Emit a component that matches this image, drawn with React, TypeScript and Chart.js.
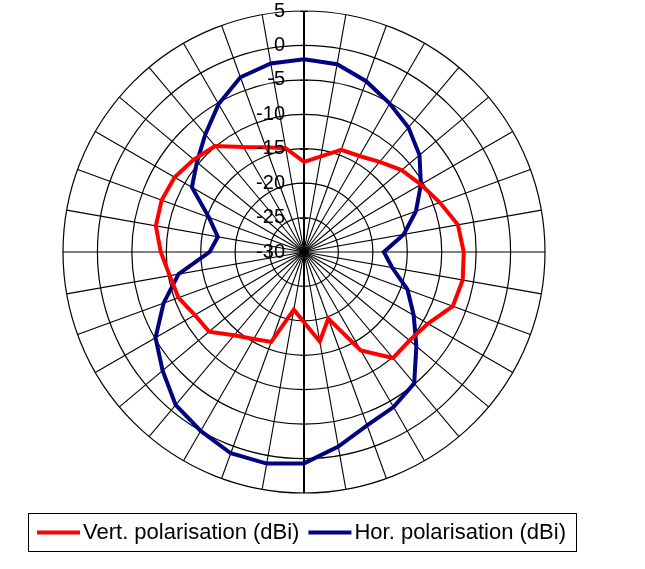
import React, { useEffect, useRef } from "react";
import { Chart, registerables } from "chart.js";

Chart.register(...registerables);

// Directions in degrees (clockwise from top)
const angles = [0, 10, 20, 30, 40, 50, 60, 70, 80, 90, 100, 110, 120, 130, 140, 150, 160, 170,
  180, 190, 200, 210, 220, 230, 240, 250, 260, 270, 280, 290, 300, 310, 320, 330, 340, 350];

const vertValues = [-16.9, -15.9, -14.2, -13.9, -12.9, -11.5, -10.4, -9.0, -7.3, -6.8, -6.6, -7.0,
  -9.2, -10.0, -9.9, -13.5, -19.7, -16.8, -19.8, -21.5, -16.1, -15.4, -14.2, -12.0,
  -11.7, -10.6, -10.2, -9.2, -8.15, -8.0, -8.3, -9.1, -9.9, -12.4, -13.8, -14.7];

const horValues = [-2.0, -2.3, -3.6, -5.1, -6.4, -8.1, -10.4, -12.7, -15.3, -18.4, -17.0, -14.0,
  -11.6, -8.7, -5.1, -4.0, -3.2, -1.3, 0.7, 1.2, 1.1, 0.0, -1.0, -3.2,
  -5.1, -8.3, -11.5, -16.3, -17.3, -15.3, -11.2, -9.7, -7.7, -5.2, -3.0, -2.2];

const tickValues = [5, 0, -5, -10, -15, -20, -25, -30];
const seriesNames = ["Vert. polarisation (dBi)", "Hor. polarisation (dBi)"];

const RED = "#FF0000";
const NAVY = "#000080";
const FONT = '"Liberation Sans", Arial, sans-serif';

const excelPlugin = {
  id: "excelDecor",
  afterDraw(chart: any) {
    const ctx: CanvasRenderingContext2D = chart.ctx;
    const scale = chart.scales.r;
    const cx = scale.xCenter;
    const cy = scale.yCenter;
    ctx.save();
    // tick marks on vertical axis
    ctx.strokeStyle = "#000";
    ctx.lineWidth = 1;
    tickValues.forEach((v) => {
      const d = scale.getDistanceFromCenterForValue(v);
      const y = Math.round(cy - d) + 0.5;
      ctx.beginPath();
      ctx.moveTo(cx - 4, y);
      ctx.lineTo(cx + 4, y);
      ctx.stroke();
    });
    // tick labels
    ctx.fillStyle = "#000";
    ctx.font = `20px ${FONT}`;
    ctx.textAlign = "right";
    ctx.textBaseline = "middle";
    tickValues.forEach((v) => {
      const d = scale.getDistanceFromCenterForValue(v);
      ctx.fillText(String(v), cx - 19, cy - d);
    });
    // legend
    const boxX = 28, boxY = 513, boxW = 548, boxH = 38;
    ctx.lineWidth = 1;
    ctx.strokeStyle = "#000";
    ctx.strokeRect(boxX + 0.5, boxY + 0.5, boxW, boxH);
    const ly = boxY + boxH / 2 + 0.5;
    let x = boxX + 9;
    ctx.textAlign = "left";
    ctx.font = `22px ${FONT}`;
    chart.data.datasets.forEach((ds: any) => {
      ctx.strokeStyle = ds.borderColor;
      ctx.lineWidth = 4;
      ctx.beginPath();
      ctx.moveTo(x, ly);
      ctx.lineTo(x + 43, ly);
      ctx.stroke();
      x += 46;
      ctx.fillStyle = "#000";
      ctx.fillText(ds.label, x, ly);
      x += ctx.measureText(ds.label).width + 9;
    });
    ctx.restore();
  },
};

export default function App() {
  const canvasRef = useRef<HTMLCanvasElement | null>(null);

  useEffect(() => {
    if (!canvasRef.current) return;
    const chart = new Chart(canvasRef.current, {
      type: "radar",
      data: {
        labels: angles.map((a) => String(a)),
        datasets: [
          {
            label: seriesNames[0],
            data: vertValues,
            borderColor: RED,
            backgroundColor: RED,
            borderWidth: 4,
            fill: false,
            pointRadius: 0,
            tension: 0,
          },
          {
            label: seriesNames[1],
            data: horValues,
            borderColor: NAVY,
            backgroundColor: NAVY,
            borderWidth: 4,
            fill: false,
            pointRadius: 0,
            tension: 0,
          },
        ],
      },
      options: {
        responsive: false,
        animation: false,
        devicePixelRatio: 1,
        layout: { padding: { left: 63, right: 100, top: 11, bottom: 76 } },
        plugins: {
          legend: { display: false },
          tooltip: { enabled: false },
        },
        scales: {
          r: {
            min: -30,
            max: 5,
            ticks: { stepSize: 5, display: false },
            grid: { circular: true, color: "#000", lineWidth: 1.2 },
            angleLines: {
              color: "#000",
              lineWidth: (c: any) => (c.index === 0 || c.index === 18 ? 2 : 1.1),
            },
            pointLabels: { display: false },
          },
        },
      } as any,
      plugins: [excelPlugin],
    });
    return () => chart.destroy();
  }, []);

  return (
    <div style={{ position: "absolute", left: 0, top: 0, width: 645, height: 569, background: "#fff" }}>
      <canvas ref={canvasRef} width={645} height={569} />
    </div>
  );
}
